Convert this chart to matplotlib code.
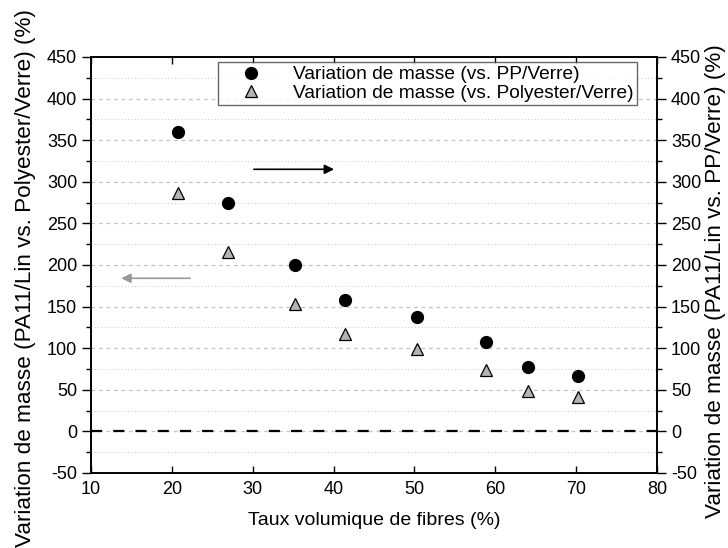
import matplotlib.pyplot as plt
from matplotlib.ticker import MultipleLocator

plt.rcParams['font.family'] = ['Liberation Sans', 'DejaVu Sans']
plt.rcParams['axes.unicode_minus'] = False

# Taux volumique de fibres (%)
taux_fibres = [20.7, 26.9, 35.2, 41.4, 50.3, 58.9, 64.0, 70.2]
# Variation de masse (%) vs. PP/Verre (axe droit)
var_pp = [360, 275, 200, 158, 137, 107, 77, 66]
# Variation de masse (%) vs. Polyester/Verre (axe gauche)
var_polyester = [286, 215, 153, 117, 99, 74, 49, 41]

fig = plt.figure(figsize=(7.28, 5.48), dpi=100)
ax = fig.add_axes([0.125, 0.137, 0.7775, 0.759])
ax2 = ax.twinx()

for a in (ax, ax2):
    a.set_xlim(10, 80)
    a.set_ylim(-50, 450)
    a.yaxis.set_major_locator(MultipleLocator(50))
    a.yaxis.set_minor_locator(MultipleLocator(25))
    a.tick_params(axis='y', which='major', direction='out', length=6.5, width=1, labelsize=13)
    a.tick_params(axis='y', which='minor', direction='out', length=3.5, width=1)
    for s in a.spines.values():
        s.set_linewidth(1.2)

ax.xaxis.set_major_locator(MultipleLocator(10))
ax.tick_params(axis='x', which='major', direction='in', length=5, width=1,
               top=True, labelsize=13, pad=6)

# grille horizontale
ax.grid(axis='y', which='major', color='#c4c4c4', ls=(0, (3, 3)), lw=0.9)
ax.grid(axis='y', which='minor', color='#d0d0d0', ls=(0, (1, 2)), lw=0.8)
ax.set_axisbelow(True)

ax.axhline(0, color='black', ls=(0, (5, 5)), lw=1.6, zorder=2)

p1, = ax2.plot(taux_fibres, var_pp, 'o', color='black', markersize=8.5,
               label='Variation de masse (vs. PP/Verre)', zorder=4)
p2, = ax.plot(taux_fibres, var_polyester, '^', markerfacecolor='#b4b4b4',
              markeredgecolor='black', markeredgewidth=0.9, markersize=9,
              label='Variation de masse (vs. Polyester/Verre)', zorder=4)

# fleches indiquant l'axe de chaque serie
ax.annotate('', xy=(40.4, 315), xytext=(29.8, 315),
            arrowprops=dict(arrowstyle='-|>', color='black', lw=1.2,
                            mutation_scale=14))
ax.annotate('', xy=(13.4, 184), xytext=(22.6, 184),
            arrowprops=dict(arrowstyle='-|>', color='#999999', lw=1.2,
                            mutation_scale=14))

ax.set_xlabel('Taux volumique de fibres (%)', fontsize=14, labelpad=10)
ax.set_ylabel('Variation de masse (PA11/Lin vs. Polyester/Verre) (%)', fontsize=16.2)
ax2.set_ylabel('Variation de masse (PA11/Lin vs. PP/Verre) (%)', fontsize=16.2)
ax.yaxis.set_label_coords(-0.098, 0.468)
ax2.yaxis.set_label_coords(1.085, 0.46)

leg = ax2.legend(handles=[p1, p2], loc='upper right', bbox_to_anchor=(0.965, 0.988),
                 borderaxespad=0, fontsize=13.8, frameon=True, fancybox=False,
                 edgecolor='#444444', borderpad=0.2, handletextpad=0.7,
                 labelspacing=0.05, handlelength=3.0)
leg.get_frame().set_linewidth(1.0)

fig.savefig('out.png', dpi=100)
